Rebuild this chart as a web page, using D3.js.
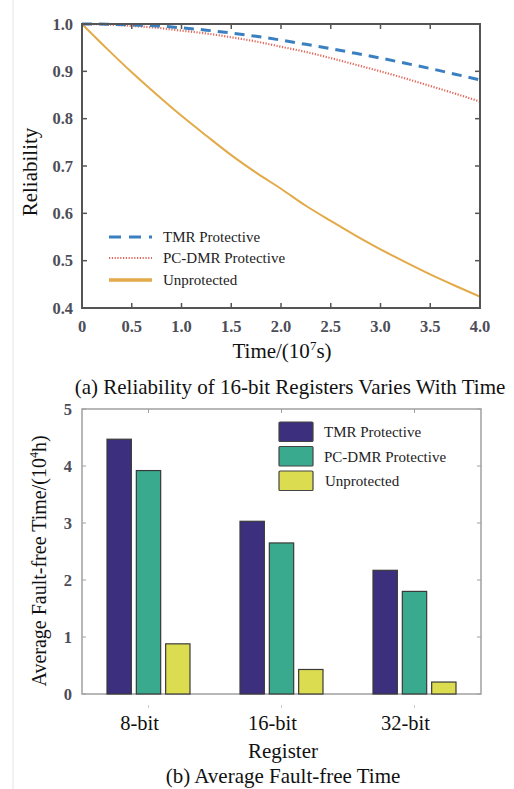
<!DOCTYPE html>
<html><head><meta charset="utf-8">
<script src="https://cdn.jsdelivr.net/npm/d3@7"></script>
<style>
body{margin:0;background:#fff;}
svg{display:block;}
text{font-family:"Liberation Serif","Times New Roman",Times,serif;}
</style></head>
<body>
<svg id="c" width="514" height="789" font-family="Liberation Serif, Times New Roman, serif"></svg>
<script>
// ---------- Data: (a) reliability vs time ----------
const timeValues = [0,0.25,0.5,0.75,1.0,1.25,1.5,1.75,2.0,2.25,2.5,2.75,3.0,3.25,3.5,3.75,4.0];
const tmrReliability   = [1.0,0.9995,0.998,0.996,0.992,0.987,0.981,0.974,0.966,0.957,0.948,0.938,0.928,0.917,0.906,0.894,0.882];
const pcdmrReliability = [1.0,0.999,0.996,0.992,0.986,0.980,0.972,0.963,0.952,0.941,0.928,0.914,0.900,0.885,0.869,0.853,0.836];
const unprotReliability= [1.0,0.948,0.898,0.851,0.806,0.764,0.723,0.686,0.652,0.616,0.584,0.553,0.524,0.497,0.471,0.447,0.424];
const xTicksA = [0,0.5,1.0,1.5,2.0,2.5,3.0,3.5,4.0];
const yTicksA = [0.4,0.5,0.6,0.7,0.8,0.9,1.0];
const seriesNamesA = ["TMR Protective","PC-DMR Protective","Unprotected"];

// ---------- Data: (b) average fault-free time ----------
const registers = ["8-bit","16-bit","32-bit"];
const tmrTime   = [4.47,3.03,2.17];
const pcdmrTime = [3.92,2.65,1.80];
const unprotTime= [0.88,0.43,0.21];
const yTicksB = [0,1,2,3,4,5];
const seriesNamesB = ["TMR Protective","PC-DMR Protective","Unprotected"];

const svg = d3.select("#c");
// faint page edge line
svg.append("line").attr("x1",13).attr("x2",13).attr("y1",0).attr("y2",789)
  .attr("stroke","#e4e4e4").attr("stroke-width",1);

// ================= Chart (a) =================
{
  const L=82,R=480,T=24,B=308;
  const x = d3.scaleLinear().domain([0,4]).range([L,R]);
  const y = d3.scaleLinear().domain([0.4,1.0]).range([B,T]);
  const g = svg.append("g");
  const frameColor="#555";
  const tl=5;
  xTicksA.forEach(v=>{
    g.append("line").attr("x1",x(v)).attr("x2",x(v)).attr("y1",B).attr("y2",B-tl).attr("stroke",frameColor).attr("stroke-width",1.5);
    g.append("line").attr("x1",x(v)).attr("x2",x(v)).attr("y1",T).attr("y2",T+tl).attr("stroke",frameColor).attr("stroke-width",1.5);
    g.append("text").attr("x",x(v)).attr("y",332).attr("text-anchor","middle")
      .attr("font-size",16.5).attr("font-weight","bold").attr("fill","#4d4d58").text(v===0?"0":v.toFixed(1));
  });
  yTicksA.forEach(v=>{
    g.append("line").attr("x1",L).attr("x2",L+tl).attr("y1",y(v)).attr("y2",y(v)).attr("stroke",frameColor).attr("stroke-width",1.5);
    g.append("line").attr("x1",R).attr("x2",R-tl).attr("y1",y(v)).attr("y2",y(v)).attr("stroke",frameColor).attr("stroke-width",1.5);
    g.append("text").attr("x",73).attr("y",y(v)).attr("dy","0.35em").attr("text-anchor","end")
      .attr("font-size",16.5).attr("font-weight","bold").attr("fill","#4d4d58").text(v.toFixed(1));
  });
  const line = d3.line().x(d=>x(d[0])).y(d=>y(d[1])).curve(d3.curveMonotoneX);
  g.append("clipPath").attr("id","clipA").append("rect").attr("x",L).attr("y",T-2).attr("width",R-L).attr("height",B-T+2);
  const lines = g.append("g").attr("clip-path","url(#clipA)");
  lines.append("path").attr("d",line(timeValues.map((t,i)=>[t,unprotReliability[i]])))
    .attr("fill","none").attr("stroke","#e2aa48").attr("stroke-width",2);
  lines.append("path").attr("d",line(timeValues.map((t,i)=>[t,pcdmrReliability[i]])))
    .attr("fill","none").attr("stroke","#e2665a").attr("stroke-width",2.2).attr("stroke-dasharray","1.2,1.6");
  lines.append("path").attr("d",line(timeValues.map((t,i)=>[t,tmrReliability[i]])))
    .attr("fill","none").attr("stroke","#3a80c0").attr("stroke-width",3).attr("stroke-dasharray","10,7");
  g.append("rect").attr("x",L).attr("y",T).attr("width",R-L).attr("height",B-T)
    .attr("fill","none").attr("stroke",frameColor).attr("stroke-width",2);
  // legend
  const ly=[237,258,280];
  const styles=[{c:"#3a80c0",w:3,d:"12,8"},{c:"#e2665a",w:2.2,d:"1.2,1.6"},{c:"#e2aa48",w:3.5,d:null}];
  seriesNamesA.forEach((n,i)=>{
    const ln=g.append("line").attr("x1",109).attr("x2",152).attr("y1",ly[i]).attr("y2",ly[i])
      .attr("stroke",styles[i].c).attr("stroke-width",styles[i].w);
    if(styles[i].d) ln.attr("stroke-dasharray",styles[i].d);
    g.append("text").attr("x",163).attr("y",ly[i]).attr("dy","0.35em").attr("font-size",15).attr("fill","#222").text(n);
  });
  // axis labels
  g.append("text").attr("transform","translate(37,172) rotate(-90)").attr("text-anchor","middle")
    .attr("font-size",21).attr("fill","#111").text("Reliability");
  const xl=g.append("text").attr("x",282).attr("y",358).attr("text-anchor","middle").attr("font-size",21).attr("fill","#111");
  xl.append("tspan").text("Time/(10");
  xl.append("tspan").attr("font-size",13).attr("dy",-8).text("7");
  xl.append("tspan").attr("dy",8).text("s)");
  g.append("text").attr("x",290).attr("y",394).attr("text-anchor","middle").attr("font-size",21).attr("fill","#111")
    .text("(a) Reliability of 16-bit Registers Varies With Time");
}

// ================= Chart (b) =================
{
  const L=82,R=481,T=409,B=694;
  const x0 = d3.scaleBand().domain(registers).range([L,R]).paddingInner(0.376).paddingOuter(0.188);
  const x1 = d3.scaleBand().domain(seriesNamesB).range([0,x0.bandwidth()]).paddingInner(0.17);
  const y = d3.scaleLinear().domain([0,5]).range([B,T]);
  const g = svg.append("g");
  const frameColor="#a0a0a0";
  const colors=["#3b2f7e","#3aaa8f","#dcdc50"];
  const vals=[tmrTime,pcdmrTime,unprotTime];
  g.append("rect").attr("x",L).attr("y",T).attr("width",R-L).attr("height",B-T)
    .attr("fill","none").attr("stroke",frameColor).attr("stroke-width",1.5);
  yTicksB.forEach(v=>{
    g.append("line").attr("x1",L).attr("x2",L+4).attr("y1",y(v)).attr("y2",y(v)).attr("stroke",frameColor);
    g.append("line").attr("x1",R).attr("x2",R-4).attr("y1",y(v)).attr("y2",y(v)).attr("stroke",frameColor);
    g.append("text").attr("x",72).attr("y",y(v)).attr("dy","0.35em").attr("text-anchor","end")
      .attr("font-size",16.5).attr("font-weight","bold").attr("fill","#4d4d58").text(v);
  });
  registers.forEach((r,ri)=>{
    const cx=x0(r)+x0.bandwidth()/2;
    g.append("line").attr("x1",cx).attr("x2",cx).attr("y1",T).attr("y2",T+4).attr("stroke",frameColor);
    g.append("line").attr("x1",cx).attr("x2",cx).attr("y1",B+11).attr("y2",B+14).attr("stroke","#ccc");
    g.append("text").attr("x",cx-9).attr("y",730).attr("text-anchor","middle").attr("font-size",20.5).attr("fill","#111").text(r);
    seriesNamesB.forEach((s,si)=>{
      g.append("rect").attr("x",x0(r)+x1(s)).attr("y",y(vals[si][ri])).attr("width",x1.bandwidth())
        .attr("height",B-y(vals[si][ri])).attr("fill",colors[si]).attr("stroke","#3a3a3a").attr("stroke-width",1.2);
    });
  });
  // legend
  const ly=[422,446.5,471];
  seriesNamesB.forEach((n,i)=>{
    g.append("rect").attr("x",279).attr("y",ly[i]).attr("width",34).attr("height",19.5)
      .attr("fill",colors[i]).attr("stroke","#444").attr("stroke-width",1.2).attr("rx",1);
    g.append("text").attr("x",i===2?325:324).attr("y",ly[i]+10).attr("dy","0.35em").attr("font-size",15).attr("fill","#222").text(n);
  });
  const yl=g.append("text").attr("transform","translate(46,561) rotate(-90)").attr("text-anchor","middle")
    .attr("font-size",20).attr("fill","#111");
  yl.append("tspan").text("Average Fault-free Time/(10");
  yl.append("tspan").attr("font-size",12).attr("dy",-8).text("4");
  yl.append("tspan").attr("dy",8).text("h)");
  g.append("text").attr("x",283).attr("y",758).attr("text-anchor","middle").attr("font-size",21).attr("fill","#111").text("Register");
  g.append("text").attr("x",283).attr("y",783).attr("text-anchor","middle").attr("font-size",21).attr("fill","#111").text("(b) Average Fault-free Time");
}
</script>
</body></html>
